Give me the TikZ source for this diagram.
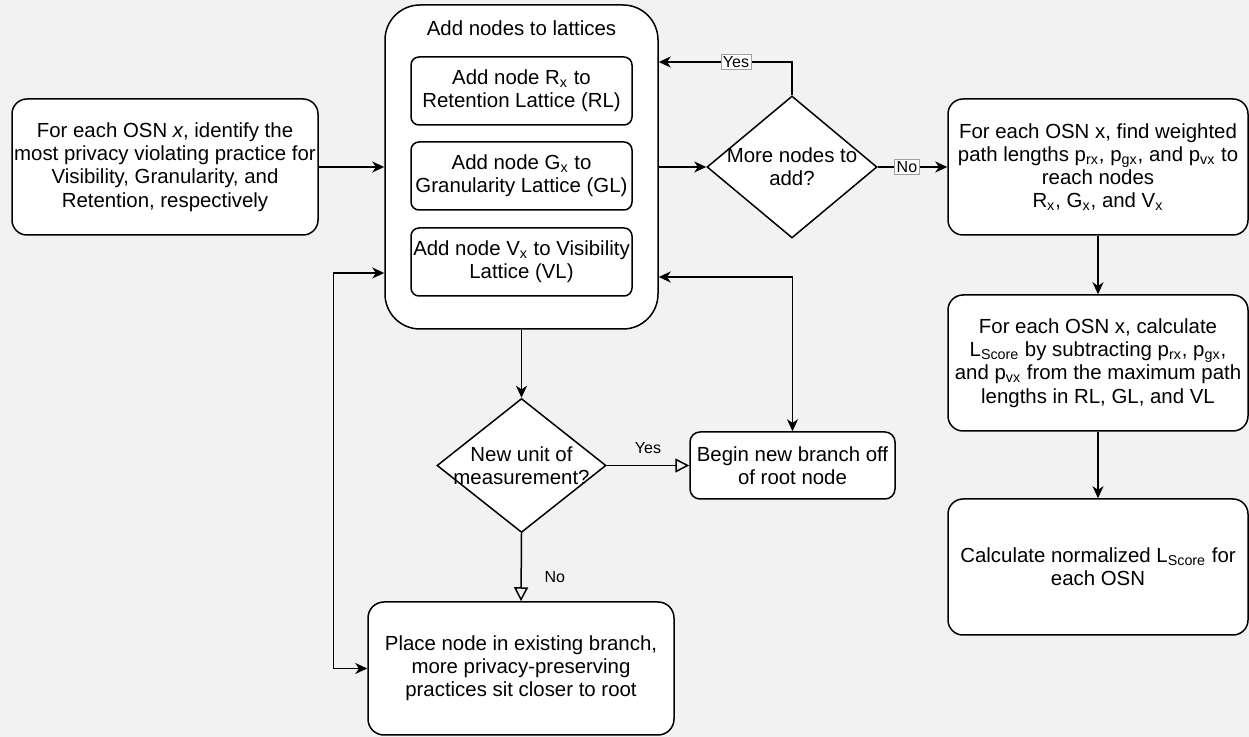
\documentclass[tikz,border=0pt]{standalone}
\usepackage{fontspec}
\setmainfont{Liberation Sans}
\usetikzlibrary{shapes,arrows.meta,positioning}
\definecolor{pagegray}{RGB}{242,242,242}
\definecolor{lblgray}{RGB}{160,160,160}

\begin{document}
\begin{tikzpicture}[x=0.5pt,y=0.5pt,yscale=-1,xscale=1,
  every node/.style={font=\fontsize{10.2}{11.6}\selectfont},
  procbox/.style={draw, fill=white, rounded corners=7.5pt, line width=0.75pt, align=center, inner sep=1pt},
  subbox/.style={draw, fill=white, rounded corners=4pt, line width=0.75pt, align=center, inner sep=1pt, minimum width=110.5pt, minimum height=34pt},
  decision/.style={diamond, draw, fill=white, line width=0.75pt, align=center, inner sep=-6pt, aspect=1.2},
  flow/.style={line width=0.75pt, -{Stealth[length=6pt,width=5.5pt,inset=1.8pt]}},
  twoway/.style={line width=0.75pt, {Stealth[length=6pt,width=5.5pt,inset=1.8pt]}-{Stealth[length=6pt,width=5.5pt,inset=1.8pt]}},
  branchflow/.style={line width=0.75pt, -{Triangle[open,length=7pt,width=7pt]}},
  boxlbl/.style={draw=lblgray, fill=white, inner sep=1pt, line width=0.4pt, font=\fontsize{8}{9}\selectfont},
  edgelbl/.style={font=\fontsize{8}{9}\selectfont}
]
%Background
\fill[pagegray] (0,0) rectangle (1249,737);

%Shape: Rounded Rect [left]
\node[procbox, minimum width=153pt, minimum height=68pt] (osn) at (165,167) {For each OSN \textit{x}, identify the\\most privacy violating practice for\\Visibility, Granularity, and\\Retention, respectively};
%Shape: Rounded Rect [lattices]
\node[procbox, rounded corners=17.5pt, minimum width=136.5pt, minimum height=162pt] (lat) at (521.5,167) {};
% Text Node
\node (lattitle) at (521.5,28) {Add nodes to lattices};
\node[subbox] (rl) at (521.5,91) {Add node R\textsubscript{x} to\\Retention Lattice (RL)};
\node[subbox] (gl) at (521.5,176) {Add node G\textsubscript{x} to\\Granularity Lattice (GL)};
\node[subbox] (vl) at (521.5,262) {Add node V\textsubscript{x} to Visibility\\Lattice (VL)};
%Shape: Diamond
\node[decision, minimum width=85pt, minimum height=71pt] (more) at (792,167) {More nodes to\\add?};
%Shape: Rounded Rect [right column]
\node[procbox, minimum width=150pt, minimum height=68pt] (rfind) at (1098,167) {For each OSN x, find weighted\\path lengths p\textsubscript{rx}, p\textsubscript{gx}, and p\textsubscript{vx} to\\reach nodes\\R\textsubscript{x}, G\textsubscript{x}, and V\textsubscript{x}};
\node[procbox, minimum width=150pt, minimum height=68pt] (calc) at (1098,363) {For each OSN x, calculate\\L\textsubscript{Score} by subtracting p\textsubscript{rx}, p\textsubscript{gx},\\and p\textsubscript{vx} from the maximum path\\lengths in RL, GL, and VL};
\node[procbox, minimum width=150pt, minimum height=68pt] (norm) at (1098,567) {Calculate normalized L\textsubscript{Score} for\\each OSN};
%Shape: Diamond
\node[decision, minimum width=84.5pt, minimum height=67pt] (newunit) at (521.5,465.5) {New unit of\\measurement?};
%Shape: Rounded Rect [bottom]
\node[procbox, rounded corners=5pt, minimum width=102.5pt, minimum height=33.5pt] (branch) at (792.5,465.5) {Begin new branch off\\of root node};
\node[procbox, rounded corners=8pt, minimum width=153pt, minimum height=66.5pt] (place) at (521,668.5) {Place node in existing branch,\\more privacy-preserving\\practices sit closer to root};

%Straight Lines
\draw[flow] (osn.east) -- (osn.east -| lat.west);
\draw[flow] (lat.east) -- (more.west);
\draw[flow] (more.north) |- node[boxlbl, pos=0.71] (yeslbl) {Yes} ([yshift=-52.5pt]lat.east);
\draw[flow] (more.east) -- node[boxlbl, pos=0.42] (nolbl) {No} (rfind.west);
\draw[flow] (rfind.south) -- (calc.north);
\draw[flow] (calc.south) -- (norm.north);
\draw[flow] (lat.south) -- (newunit.north);
\draw[branchflow] (newunit.east) -- node[edgelbl, above=2pt] (yesbr) {Yes} (branch.west);
\draw[branchflow] (newunit.south) -- node[edgelbl, right=8pt, pos=0.65] (nobr) {No} (place.north);
\draw[twoway] ([yshift=55pt]lat.east) -| (branch.north);
\draw[twoway] ([yshift=53pt]lat.west) -- ++(-51,0) |- (place.west);

\end{tikzpicture}
\end{document}
